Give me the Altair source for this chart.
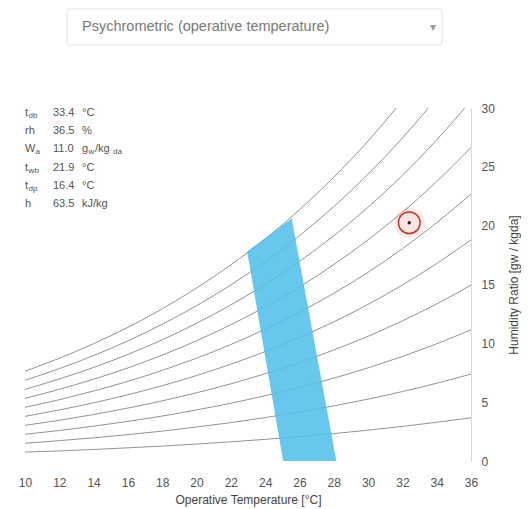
import altair as alt
import pandas as pd

# ---------------- data ----------------
temps = [10, 12, 14, 16, 18, 20, 22, 24, 26, 28, 30, 32, 34, 36]
rh_levels = [10, 20, 30, 40, 50, 60, 70, 80, 90, 100]

w_rh10 = [0.76, 0.86, 0.98, 1.12, 1.27, 1.44, 1.63, 1.84, 2.07, 2.33, 2.62, 2.94, 3.29, 3.67]
w_rh20 = [1.51, 1.73, 1.97, 2.24, 2.54, 2.89, 3.26, 3.69, 4.16, 4.68, 5.26, 5.90, 6.61, 7.39]
w_rh30 = [2.27, 2.59, 2.96, 3.37, 3.82, 4.34, 4.91, 5.55, 6.26, 7.04, 7.92, 8.89, 9.96, 11.15]
w_rh40 = [3.03, 3.46, 3.95, 4.50, 5.11, 5.80, 6.56, 7.42, 8.37, 9.43, 10.60, 11.91, 13.35, 14.95]
w_rh50 = [3.79, 4.34, 4.95, 5.63, 6.40, 7.26, 8.23, 9.30, 10.50, 11.83, 13.31, 14.96, 16.78, 18.80]
w_rh60 = [4.56, 5.21, 5.95, 6.77, 7.70, 8.74, 9.90, 11.19, 12.64, 14.25, 16.04, 18.04, 20.25, 22.70]
w_rh70 = [5.32, 6.09, 6.95, 7.91, 9.00, 10.22, 11.58, 13.10, 14.79, 16.69, 18.80, 21.14, 23.75, 26.65]
w_rh80 = [6.09, 6.97, 7.95, 9.06, 10.30, 11.70, 13.27, 15.01, 16.97, 19.14, 21.57, 24.28, 27.29, 30.64]
w_rh90 = [6.86, 7.85, 8.96, 10.21, 11.62, 13.20, 14.96, 16.94, 19.15, 21.62, 24.38, 27.45, 30.87, 34.69]
w_rh100 = [7.63, 8.73, 9.97, 11.36, 12.93, 14.70, 16.67, 18.88, 21.35, 24.12, 27.20, 30.65, 34.49, 38.78]
curves = [w_rh10, w_rh20, w_rh30, w_rh40, w_rh50, w_rh60, w_rh70, w_rh80, w_rh90, w_rh100]

# comfort zone (humidity ratio levels with left/right operative temperature)
zone_w = [0.0, 17.8, 20.6]
zone_t_left = [25.05, 22.95, 25.55]
zone_t_right = [28.15, 25.90, 25.55]

# current condition point
point_t = [32.4]
point_w = [20.25]

x_ticks = [10, 12, 14, 16, 18, 20, 22, 24, 26, 28, 30, 32, 34, 36]
y_ticks = [0, 5, 10, 15, 20, 25, 30]

info_labels = ["t", "rh", "W", "t", "t", "h"]
info_subs = ["db", "", "a", "wb", "dp", ""]
info_values = ["33.4", "36.5", "11.0", "21.9", "16.4", "63.5"]
info_units = ["°C", "%", "g", "°C", "°C", "kJ/kg"]

dropdown_text = "Psychrometric (operative temperature)"
x_title = "Operative Temperature [°C]"
y_title = "Humidity Ratio [gw / kgda]"

# ---------------- tables ----------------
rows = []
for rh, ws in zip(rh_levels, curves):
    for t, w in zip(temps, ws):
        rows.append({"rh": rh, "t": t, "w": w})
curve_df = pd.DataFrame(rows)
zone_df = pd.DataFrame({"w": zone_w, "tl": zone_t_left, "tr": zone_t_right})
point_df = pd.DataFrame({"t": point_t, "w": point_w})

W, H = 446, 353
FONT = "Liberation Sans"

xscale = alt.Scale(domain=[10, 36], nice=False, zero=False)
yscale = alt.Scale(domain=[0, 30], nice=False, zero=False)

xaxis = alt.Axis(title=x_title, values=x_ticks, grid=False, domain=False, ticks=False,
                 labelOverlap=False, labelFlush=False, labelBound=False,
                 labelPadding=16, labelFontSize=12, labelColor="#555", titleFontSize=12,
                 titleFontWeight="normal", titleColor="#444", titlePadding=6, labelFont=FONT,
                 titleFont=FONT)
yaxis = alt.Axis(title=y_title, orient="right", values=y_ticks, grid=False, domain=True,
                 domainColor="#d8d8d8", ticks=False, labelPadding=10, labelFontSize=12,
                 labelOverlap=False, labelFlush=False, labelBound=False,
                 labelColor="#555", titleFontSize=12, titleFontWeight="normal",
                 titleColor="#444", titleAngle=270, titlePadding=26, labelFont=FONT,
                 titleFont=FONT)

lines = alt.Chart(curve_df).mark_line(
    color="#939393", strokeWidth=1, clip=True, interpolate="monotone"
).encode(
    x=alt.X("t:Q", scale=xscale, axis=xaxis),
    y=alt.Y("w:Q", scale=yscale, axis=yaxis),
    detail="rh:N",
)

zone = alt.Chart(zone_df).mark_area(
    orient="horizontal", color="#52bfe9", opacity=0.88
).encode(
    y=alt.Y("w:Q", scale=yscale, axis=yaxis),
    x=alt.X("tl:Q", scale=xscale, axis=xaxis),
    x2="tr:Q",
)


def pt(mark):
    return alt.Chart(point_df).mark_circle(**mark).encode(
        x=alt.X("t:Q", scale=xscale, axis=xaxis), y=alt.Y("w:Q", scale=yscale, axis=yaxis))


halo = pt(dict(size=1000, color="#ff0000", opacity=0.07))
ring = pt(dict(size=470, color="#fde3e3", opacity=1, stroke="#c0392b", strokeWidth=1.5))
dot = pt(dict(size=12, color="#222", opacity=1))

layers = [lines, zone, halo, ring, dot]


def txt(s, px, py, size=11, color="#555", align="left"):
    return alt.Chart(pd.DataFrame({"s": [s]})).mark_text(
        align=align, baseline="middle", fontSize=size, color=color, font=FONT
    ).encode(text="s:N", x=alt.value(px), y=alt.value(py))


# info block
for i in range(len(info_labels)):
    py = 5 + 18.2 * i
    layers.append(txt(info_labels[i], 0, py))
    if info_subs[i]:
        sx = 10.6 if info_labels[i] == "W" else 3.6
        layers.append(txt(info_subs[i], sx, py + 3, size=8))
    layers.append(txt(info_values[i], 28, py))
    layers.append(txt(info_units[i], 57, py))
    if info_units[i] == "g":
        layers.append(txt("w", 63.5, py + 3, size=8))
        layers.append(txt("/kg", 70, py))
        layers.append(txt("da", 88, py + 3, size=8))

# dropdown box
box = alt.Chart(pd.DataFrame({"a": [0]})).mark_rect(
    fill="white", stroke="#e2e2e2", strokeWidth=1, cornerRadius=2
).encode(x=alt.value(42), x2=alt.value(417), y=alt.value(-99), y2=alt.value(-63))
layers.append(box)
layers.append(txt(dropdown_text, 57, -81, size=14.5, color="#7a7a7a"))
layers.append(txt("▾", 405, -81, size=12, color="#999"))

chart = alt.layer(*layers).properties(
    width=W, height=H,
    padding={"left": 17, "top": 100, "right": 50, "bottom": 50},
    autosize=alt.AutoSizeParams(type="none"),
    background="white",
).configure_view(stroke=None)

chart.save("out.html", embed_options={"renderer": "svg", "actions": False})
